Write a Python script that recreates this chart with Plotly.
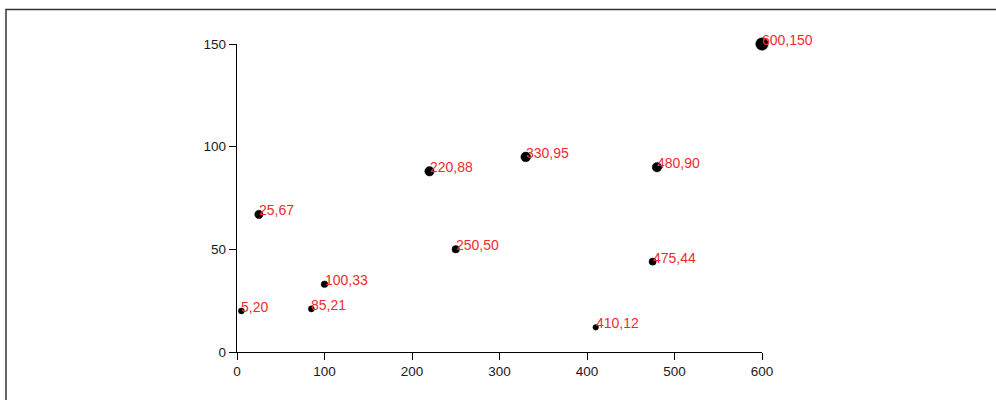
import plotly.graph_objects as go

xs = [5, 480, 250, 100, 330, 410, 475, 25, 85, 220, 600]
ys = [20, 90, 50, 33, 95, 12, 44, 67, 21, 88, 150]
labels = [f"{x},{y}" for x, y in zip(xs, ys)]

x_ticks = [0, 100, 200, 300, 400, 500, 600]
y_ticks = [0, 50, 100, 150]

ymax = max(ys)
sizes = [2.5 * (2 + 3 * y / ymax) for y in ys]

fig = go.Figure()
fig.add_trace(go.Scatter(
    x=xs, y=ys, mode="markers",
    marker=dict(color="black", size=sizes, line=dict(width=0.5, color="black"), opacity=1),
    hoverinfo="skip", cliponaxis=False,
))

for x, y, t in zip(xs, ys, labels):
    fig.add_annotation(x=x, y=y, text=t, showarrow=False, xanchor="left", yanchor="bottom",
                       xshift=-1, yshift=-5, borderpad=0,
                       font=dict(family="Liberation Sans, Arial, sans-serif", size=14, color="#f02a32"))

axis_common = dict(showgrid=False, zeroline=False, showline=True, linecolor="black", linewidth=1.4,
                   ticks="outside", ticklen=7, tickwidth=1.4, tickcolor="black",
                   tickfont=dict(family="Liberation Sans, Arial, sans-serif", size=13.5, color="#1a1a1a"))

fig.update_xaxes(range=[0, 600], tickvals=x_ticks, ticktext=[str(v) for v in x_ticks], **axis_common)
fig.update_yaxes(range=[0, 150], tickvals=y_ticks, ticktext=[str(v) for v in y_ticks], **axis_common)

# outer frame
fig.add_shape(type="rect", xref="paper", yref="paper",
              x0=(6 - 237) / 525, x1=(1000 - 237) / 525,
              y0=(351.7 - 420) / 308.2, y1=(351.7 - 9) / 308.2,
              line=dict(color="#333", width=1.5), fillcolor="rgba(0,0,0,0)", layer="below")

fig.update_layout(
    width=996, height=400, autosize=False,
    margin=dict(l=237, r=234, t=44, b=48, pad=0),
    paper_bgcolor="white", plot_bgcolor="white",
    showlegend=False,
)

fig.write_html("out.html", config={"displayModeBar": False},
               post_script="document.body.style.margin='0';document.body.style.overflow='hidden';")
